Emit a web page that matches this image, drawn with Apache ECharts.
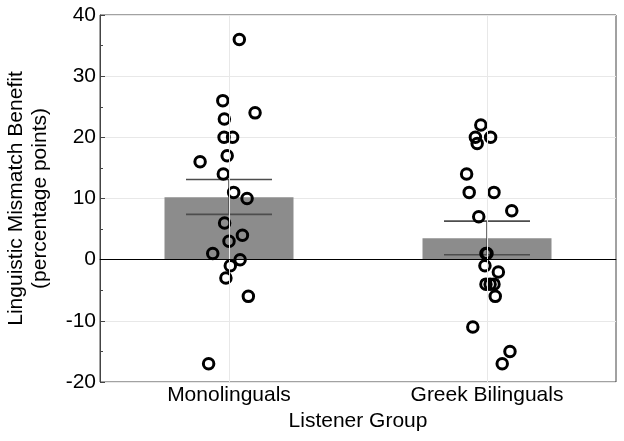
<!DOCTYPE html>
<html>
<head>
<meta charset="utf-8">
<script src="https://cdn.jsdelivr.net/npm/echarts@6/dist/echarts.min.js"></script>
<style>html,body{margin:0;padding:0;background:#fff}#c{width:624px;height:441px}</style>
</head>
<body>
<div id="c"></div>
<script>
var categories = ['Monolinguals', 'Greek Bilinguals'];
var means = [10.2, 3.5];
var errLow = [7.4, 0.8];
var errHigh = [13.1, 6.3];
var monoValues = [36, 26, 24, 23, 20, 20, 17, 16, 14, 11, 10, 6, 4, 3, 1, 0, -1, -3, -6, -17];
var monoJitter = [0.540, 0.476, 0.601, 0.482, 0.481, 0.514, 0.493, 0.388, 0.478, 0.518, 0.570, 0.483, 0.552, 0.500, 0.437, 0.543, 0.505, 0.488, 0.575, 0.421];
var greekValues = [22, 20, 20, 19, 14, 11, 11, 8, 7, 1, 1, -1, -2, -4, -4, -4, -6, -11, -15, -17];
var greekJitter = [1.476, 1.455, 1.514, 1.462, 1.421, 1.431, 1.527, 1.596, 1.468, 1.496, 1.500, 1.492, 1.544, 1.496, 1.512, 1.527, 1.532, 1.445, 1.589, 1.559];
var yTicks = [-20, -10, 0, 10, 20, 30, 40];

var FONT = '"Liberation Sans", Arial, Helvetica, sans-serif';
var chart = echarts.init(document.getElementById('c'), null, {renderer: 'canvas'});

function pts(xs, ys) { return ys.map(function (v, i) { return [xs[i], v]; }); }

var dotStyle = {color: 'rgba(0,0,0,0)', borderColor: '#000', borderWidth: 3, opacity: 1};

chart.setOption({
  animation: false,
  backgroundColor: '#fff',
  grid: {left: 100, right: 8, top: 15, bottom: 59, containLabel: false, outerBoundsMode: 'none',
    show: true, borderColor: '#444', borderWidth: 1, backgroundColor: 'transparent'},
  xAxis: [{
    type: 'category',
    data: categories,
    axisLine: {lineStyle: {color: '#444', width: 1}},
    axisTick: {show: false},
    axisLabel: {color: '#000', fontSize: 21, fontFamily: FONT, margin: 3},
    name: 'Listener Group',
    nameLocation: 'middle',
    nameGap: 28,
    nameTextStyle: {color: '#000', fontSize: 21, fontFamily: FONT}
  }, {
    type: 'value', min: 0, max: 2, show: false
  }],
  yAxis: {
    type: 'value',
    min: yTicks[0], max: yTicks[yTicks.length - 1], interval: 10,
    axisLine: {show: true, lineStyle: {color: '#444', width: 1}},
    axisTick: {show: true, inside: true, length: 5, lineStyle: {color: '#444'}},
    minorTick: {show: true, splitNumber: 2, length: 3, lineStyle: {color: '#444'}},
    splitLine: {show: true, lineStyle: {color: '#e8e8e8', width: 1}},
    axisLabel: {color: '#000', fontSize: 21, fontFamily: FONT, margin: 4},
    name: 'Linguistic Mismatch Benefit\n(percentage points)',
    nameLocation: 'middle',
    nameGap: 48,
    nameTextStyle: {color: '#000', fontSize: 21, fontFamily: FONT, lineHeight: 24}
  },
  series: [{
    type: 'scatter', xAxisIndex: 1, data: [], z: 0,
    markLine: {silent: true, symbol: 'none', label: {show: false},
      lineStyle: {color: '#e8e8e8', width: 1, type: 'solid'},
      data: [{xAxis: 0.5}, {xAxis: 1.5}]}
  }, {
    type: 'bar', data: means, barWidth: '50%', z: 2,
    itemStyle: {color: '#8c8c8c'},
    markLine: {silent: true, symbol: 'none', label: {show: false},
      lineStyle: {color: '#000', width: 1.2, type: 'solid'},
      data: [{yAxis: 0}]}
  }, {
    type: 'custom', z: 3,
    data: categories.map(function (c, i) { return [i, errLow[i], errHigh[i]]; }),
    renderItem: function (params, api) {
      var lo = api.coord([api.value(0), api.value(1)]);
      var hi = api.coord([api.value(0), api.value(2)]);
      var hw = 43;
      var st = {stroke: '#4d4d4d', lineWidth: 1.6};
      return {type: 'group', children: [
        {type: 'line', shape: {x1: lo[0], y1: lo[1], x2: hi[0], y2: hi[1]}, style: st},
        {type: 'line', shape: {x1: lo[0] - hw, y1: lo[1], x2: lo[0] + hw, y2: lo[1]}, style: st},
        {type: 'line', shape: {x1: hi[0] - hw, y1: hi[1], x2: hi[0] + hw, y2: hi[1]}, style: st}
      ]};
    }
  }, {
    type: 'scatter', xAxisIndex: 1, z: 4,
    data: pts(monoJitter, monoValues),
    symbol: 'circle', symbolSize: 10.5,
    itemStyle: dotStyle
  }, {
    type: 'scatter', xAxisIndex: 1, z: 4,
    data: pts(greekJitter, greekValues),
    symbol: 'circle', symbolSize: 10.5,
    itemStyle: dotStyle
  }]
});
</script>
</body>
</html>
